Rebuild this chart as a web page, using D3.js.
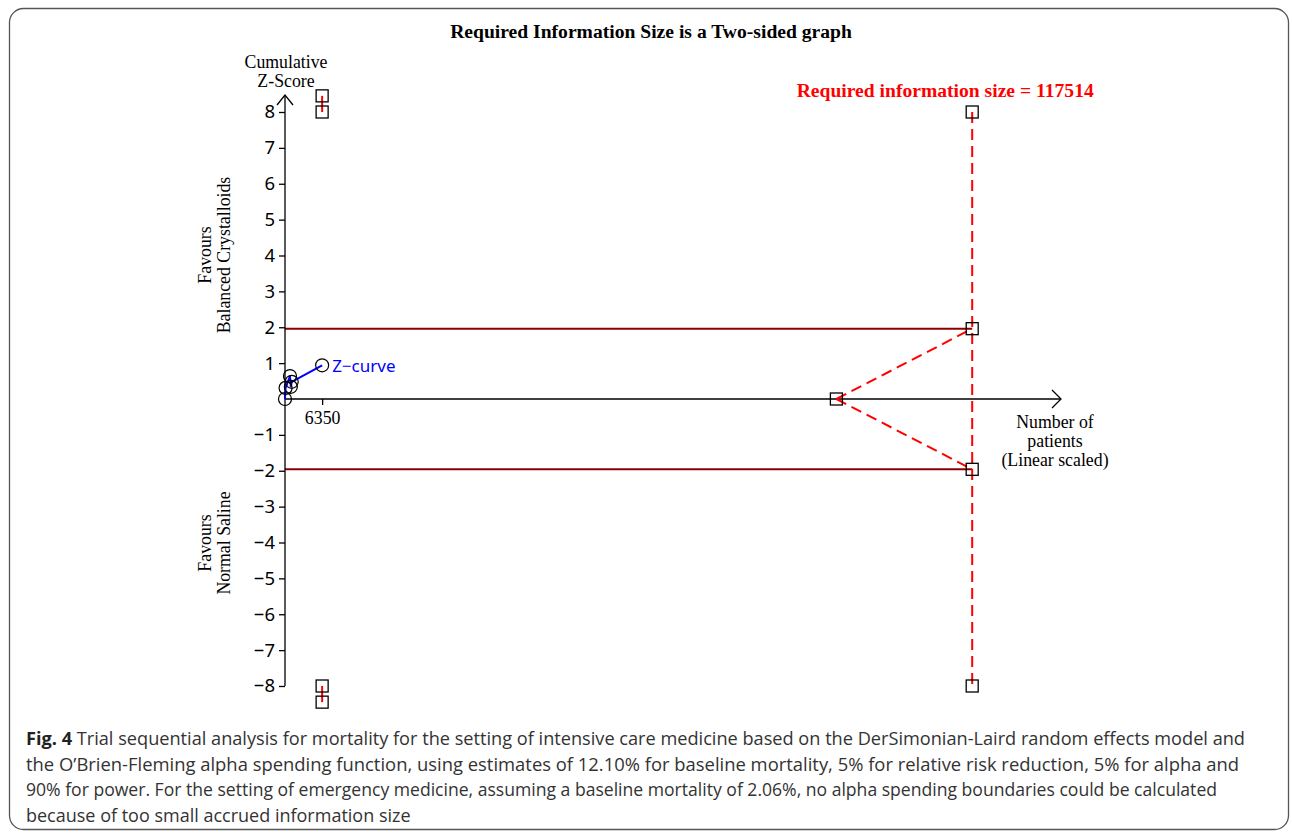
<!DOCTYPE html>
<html>
<head>
<meta charset="utf-8">
<script src="https://cdn.jsdelivr.net/npm/d3@7"></script>
<style>
  html, body { margin: 0; padding: 0; background: #fff; }
  svg { display: block; }
</style>
</head>
<body>
<svg id="chart" width="1292" height="835"></svg>
<script>
// ---- data ----
const zTickValues = [-8, -7, -6, -5, -4, -3, -2, -1, 1, 2, 3, 4, 5, 6, 7, 8];
const xTickValues = [6350];

// cumulative Z-curve (accrued patients, cumulative Z)
const zCurvePatients = [0, 100, 850, 1000, 1150, 6350];
const zCurveValues   = [0, 0.31, 0.64, 0.34, 0.48, 0.94];

const requiredInfoSize = 117514;
const conventionalZ = 1.96;
const futilityStart = 94290;       // where the inner wedge opens
const truncation = 8;               // boundaries truncated at |Z| = 8
const firstLookBoundary = 8.45;     // alpha-spending boundary at first look
const firstLook = 6350;

const captionLines = [
  ["Fig. 4", " Trial sequential analysis for mortality for the setting of intensive care medicine based on the DerSimonian-Laird random effects model and"],
  ["", "the O\u2019Brien-Fleming alpha spending function, using estimates of 12.10% for baseline mortality, 5% for relative risk reduction, 5% for alpha and"],
  ["", "90% for power. For the setting of emergency medicine, assuming a baseline mortality of 2.06%, no alpha spending boundaries could be calculated"],
  ["", "because of too small accrued information size"]
];
const captionWidths = [1219, 1213, 1191, null];

// ---- layout ----
const svg = d3.select("#chart");
const serif = "'Liberation Serif', 'Times New Roman', serif";
const sans = "'Noto Sans', 'DejaVu Sans', sans-serif";
const captionFont = "'Open Sans', 'Noto Sans', sans-serif";
const labelSize = 17.8;

const x = d3.scaleLinear().domain([0, 132700]).range([285, 1061]);
const y = d3.scaleLinear().domain([-8, 8]).range([686, 112]);
const yTop = 95;

// frame
svg.append("rect")
  .attr("x", 9.5).attr("y", 8.5).attr("width", 1279).attr("height", 821)
  .attr("rx", 14).attr("ry", 14)
  .attr("fill", "none").attr("stroke", "#555").attr("stroke-width", 1.3);

// title
svg.append("text")
  .attr("x", 651).attr("y", 38)
  .attr("text-anchor", "middle")
  .attr("font-family", serif).attr("font-weight", "bold").attr("font-size", 19.6)
  .attr("fill", "#000")
  .text("Required Information Size is a Two-sided graph");

// conventional boundaries (Z = ±1.96)
const g = svg.append("g");
[conventionalZ, -conventionalZ].forEach(v => {
  g.append("line")
    .attr("x1", x(0)).attr("x2", x(requiredInfoSize))
    .attr("y1", y(v)).attr("y2", y(v))
    .attr("stroke", "#8b0000").attr("stroke-width", 2);
});

// axes
const yAxis = d3.axisLeft(y).tickValues(zTickValues).tickSize(6).tickPadding(4);
const yg = svg.append("g").attr("transform", `translate(${x(0)},0)`).call(yAxis);
yg.select(".domain").remove();
yg.selectAll("line").attr("stroke", "#000").attr("stroke-width", 1.3);
yg.selectAll("text").attr("font-family", sans).attr("font-size", 18.5).attr("fill", "#000");

const xAxis = d3.axisBottom(x).tickValues(xTickValues).tickSize(6).tickPadding(6).tickFormat(d3.format("d"));
const xg = svg.append("g").attr("transform", `translate(0,${y(0)})`).call(xAxis);
xg.select(".domain").remove();
xg.selectAll("line").attr("stroke", "#000").attr("stroke-width", 1.3);
xg.selectAll("text").attr("font-family", serif).attr("font-size", labelSize).attr("fill", "#000");

// axis lines with open arrowheads
svg.append("line")
  .attr("x1", x(0)).attr("x2", x(0)).attr("y1", y(-8)).attr("y2", yTop)
  .attr("stroke", "#000").attr("stroke-width", 1.3);
svg.append("path")
  .attr("d", `M${x(0) - 8},${yTop + 10}L${x(0)},${yTop}L${x(0) + 8},${yTop + 10}`)
  .attr("fill", "none").attr("stroke", "#000").attr("stroke-width", 1.3);

const xEnd = x.range()[1];
svg.append("line")
  .attr("x1", x(0)).attr("x2", xEnd).attr("y1", y(0)).attr("y2", y(0))
  .attr("stroke", "#000").attr("stroke-width", 1.3);
svg.append("path")
  .attr("d", `M${xEnd - 9},${y(0) - 9}L${xEnd},${y(0)}L${xEnd - 9},${y(0) + 9}`)
  .attr("fill", "none").attr("stroke", "#000").attr("stroke-width", 1.3);

// required information size: dashed vertical and futility wedge
const red = "#ff0000";
svg.append("line")
  .attr("x1", x(requiredInfoSize)).attr("x2", x(requiredInfoSize))
  .attr("y1", y(truncation)).attr("y2", y(-truncation))
  .attr("stroke", red).attr("stroke-width", 2).attr("stroke-dasharray", "11,6");
[conventionalZ, -conventionalZ].forEach(v => {
  svg.append("line")
    .attr("x1", x(futilityStart)).attr("y1", y(0))
    .attr("x2", x(requiredInfoSize)).attr("y2", y(v))
    .attr("stroke", red).attr("stroke-width", 2).attr("stroke-dasharray", "11,6");
});

// alpha-spending boundary at the first look
[1, -1].forEach(s => {
  svg.append("line")
    .attr("x1", x(firstLook)).attr("x2", x(firstLook))
    .attr("y1", y(s * firstLookBoundary)).attr("y2", y(s * truncation))
    .attr("stroke", red).attr("stroke-width", 2);
});

// boundary squares
const squares = [
  [firstLook, firstLookBoundary], [firstLook, truncation],
  [firstLook, -truncation], [firstLook, -firstLookBoundary],
  [requiredInfoSize, truncation], [requiredInfoSize, conventionalZ],
  [requiredInfoSize, -conventionalZ], [requiredInfoSize, -truncation],
  [futilityStart, 0]
];
const sq = 12;
svg.append("g").selectAll("rect").data(squares).join("rect")
  .attr("x", d => x(d[0]) - sq / 2).attr("y", d => y(d[1]) - sq / 2)
  .attr("width", sq).attr("height", sq)
  .attr("fill", "none").attr("stroke", "#000").attr("stroke-width", 1.3);

// Z-curve
const zPts = zCurvePatients.map((p, i) => [p, zCurveValues[i]]);
svg.append("path")
  .attr("d", d3.line().x(d => x(d[0])).y(d => y(d[1]))(zPts))
  .attr("fill", "none").attr("stroke", "#0000ff").attr("stroke-width", 2);
svg.append("g").selectAll("circle").data(zPts).join("circle")
  .attr("cx", d => x(d[0])).attr("cy", d => y(d[1])).attr("r", 6.5)
  .attr("fill", "none").attr("stroke", "#000").attr("stroke-width", 1.2);
const last = zPts[zPts.length - 1];
svg.append("text")
  .attr("x", x(last[0]) + 10).attr("y", y(last[1]) + 6.5)
  .attr("font-family", sans).attr("font-size", 17).attr("fill", "#0000ff")
  .text("Z\u2212curve");

// labels
svg.append("text")
  .attr("x", x(requiredInfoSize) - 27).attr("y", 97)
  .attr("text-anchor", "middle")
  .attr("font-family", serif).attr("font-weight", "bold").attr("font-size", 19.6)
  .attr("fill", red)
  .text("Required information size = " + requiredInfoSize);

const multi = (lines, cx, cy0, lh) => {
  lines.forEach((t, i) => {
    svg.append("text")
      .attr("x", cx).attr("y", cy0 + i * lh)
      .attr("text-anchor", "middle")
      .attr("font-family", serif).attr("font-size", labelSize).attr("fill", "#000")
      .text(t);
  });
};
multi(["Cumulative", "Z-Score"], 286, 68, 19);
multi(["Number of", "patients", "(Linear scaled)"], 1055, 428, 19);

const rotated = (lines, cx0, cy, lh) => {
  lines.forEach((t, i) => {
    svg.append("text")
      .attr("transform", `translate(${cx0 + i * lh},${cy}) rotate(-90)`)
      .attr("text-anchor", "middle")
      .attr("font-family", serif).attr("font-size", labelSize).attr("fill", "#000")
      .text(t);
  });
};
rotated(["Favours", "Balanced Crystalloids"], 211, 255, 19);
rotated(["Favours", "Normal Saline"], 211, 543, 19);

// caption
captionLines.forEach((parts, i) => {
  const t = svg.append("text")
    .attr("x", 26).attr("y", 745 + i * 25.7)
    .attr("font-family", captionFont).attr("font-size", 18).attr("fill", "#333");
  if (captionWidths[i]) {
    t.attr("textLength", captionWidths[i]).attr("lengthAdjust", "spacingAndGlyphs");
  }
  if (parts[0]) t.append("tspan").attr("font-weight", "bold").attr("fill", "#222").text(parts[0]);
  t.append("tspan").text(parts[1]);
});
</script>
</body>
</html>
